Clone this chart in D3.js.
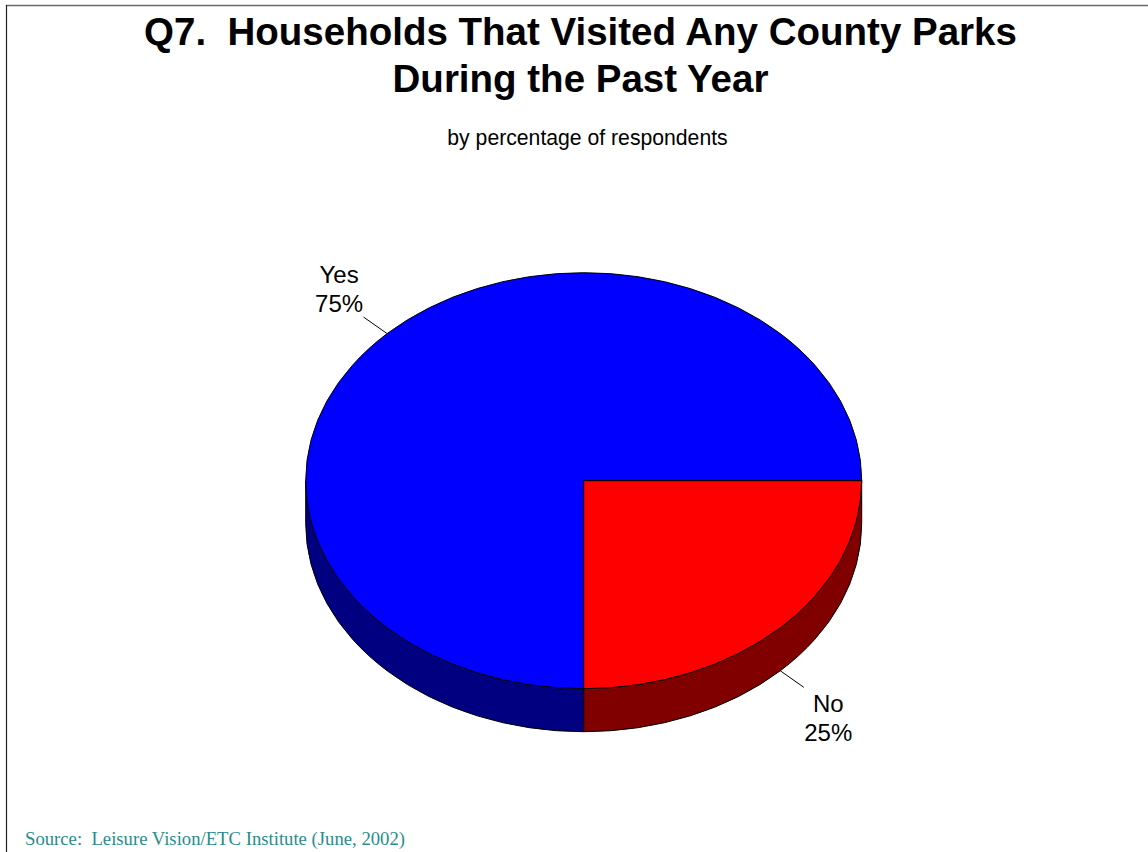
<!DOCTYPE html>
<html>
<head>
<meta charset="utf-8">
<script src="https://cdn.jsdelivr.net/npm/d3@7"></script>
<style>
html,body{margin:0;padding:0;background:#fff;}
svg{display:block;}
</style>
</head>
<body>
<svg id="chart" width="1148" height="852"></svg>
<script>
// ---- data ----
const categories = ["Yes", "No"];
const values = [75, 25];
const topColors = ["#0000ff", "#ff0000"];
const sideColors = ["#000080", "#800000"];
const titleLines = ["Q7.  Households That Visited Any County Parks", "During the Past Year"];
const subtitle = "by percentage of respondents";
const sourceText = "Source:  Leisure Vision/ETC Institute (June, 2002)";

const W = 1148, H = 852;
const svg = d3.select("#chart");

// frame
svg.append("line").attr("x1", 6).attr("y1", 5.5).attr("x2", W).attr("y2", 5.5)
  .attr("stroke", "#6a6a6a").attr("stroke-width", 1.5);
svg.append("line").attr("x1", 6.5).attr("y1", 5).attr("x2", 6.5).attr("y2", H)
  .attr("stroke", "#222").attr("stroke-width", 1.2);

// titles
svg.append("g").selectAll("text").data(titleLines).join("text")
  .attr("x", 580.5).attr("y", (d, i) => 45 + i * 46.5)
  .attr("text-anchor", "middle")
  .style("white-space", "pre")
  .attr("font-family", "'Liberation Sans', Arial, sans-serif")
  .attr("font-weight", "bold").attr("font-size", 38.5)
  .text(d => d);

svg.append("text").attr("x", 587.5).attr("y", 145)
  .attr("text-anchor", "middle")
  .attr("font-family", "'Liberation Sans', Arial, sans-serif")
  .attr("font-size", 21.2).text(subtitle);

svg.append("text").attr("x", 25).attr("y", 845)
  .style("white-space", "pre")
  .attr("font-family", "'Liberation Serif', 'Times New Roman', serif")
  .attr("font-size", 18.7).attr("fill", "#2a8c8c").text(sourceText);

// ---- 3D pie ----
const cx = 583.7, cy = 480.7, rx = 278, ry = 208, depth = 43;
const pie = d3.pie().sort(null).value(d => d.value)
  .startAngle(Math.PI).endAngle(3 * Math.PI);
const arcs = pie(categories.map((c, i) => ({ name: c, value: values[i], i })));

const px = a => cx + rx * Math.sin(a);
const py = a => cy - ry * Math.cos(a);

function topPath(a0, a1) {
  const large = (a1 - a0) > Math.PI ? 1 : 0;
  return `M${cx},${cy}L${px(a0)},${py(a0)}A${rx},${ry} 0 ${large} 1 ${px(a1)},${py(a1)}Z`;
}
function wallPath(a0, a1) {
  const large = (a1 - a0) > Math.PI ? 1 : 0;
  return `M${px(a0)},${py(a0)}A${rx},${ry} 0 ${large} 1 ${px(a1)},${py(a1)}` +
    `L${px(a1)},${py(a1) + depth}A${rx},${ry} 0 ${large} 0 ${px(a0)},${py(a0) + depth}Z`;
}
// front-visible portion of an angular range (front half: PI/2 .. 3PI/2, mod 2PI)
function frontRanges(a0, a1) {
  const out = [];
  for (let k = -1; k <= 2; k++) {
    const f0 = Math.PI / 2 + k * 2 * Math.PI, f1 = 3 * Math.PI / 2 + k * 2 * Math.PI;
    const s = Math.max(a0, f0), e = Math.min(a1, f1);
    if (e > s + 1e-6) out.push([s, e]);
  }
  return out;
}

const walls = svg.append("g");
arcs.forEach(d => {
  frontRanges(d.startAngle, d.endAngle).forEach(r => {
    walls.append("path").attr("d", wallPath(r[0], r[1]))
      .attr("fill", sideColors[d.data.i]).attr("stroke", "#000").attr("stroke-width", 1);
  });
});

svg.append("g").selectAll("path").data(arcs).join("path")
  .attr("d", d => topPath(d.startAngle, d.endAngle))
  .attr("fill", d => topColors[d.data.i])
  .attr("stroke", "#000").attr("stroke-width", 1);

// labels with leader lines
const lab = svg.append("g")
  .attr("font-family", "'Liberation Sans', Arial, sans-serif").attr("font-size", 24);
arcs.forEach(d => {
  const m = (d.startAngle + d.endAngle) / 2;
  const s = Math.sin(m), c = Math.cos(m);
  const front = c < 0;
  const ax = px(m), ay = py(m) + (front ? depth : 0);
  const ex = ax + 23.5 * Math.sign(s), ey = ay - 16.5 * Math.sign(c);
  lab.append("line").attr("x1", ax).attr("y1", ay).attr("x2", ex).attr("y2", ey)
    .attr("stroke", "#000").attr("stroke-width", 1);
  const tx = ex + 24.5 * Math.sign(s);
  const y1 = front ? ey + 25 : ey - 34;
  const t = lab.append("text").attr("text-anchor", "middle");
  t.append("tspan").attr("x", tx).attr("y", y1).text(d.data.name);
  t.append("tspan").attr("x", tx).attr("y", y1 + 29).text(d.data.value + "%");
});
</script>
</body>
</html>
